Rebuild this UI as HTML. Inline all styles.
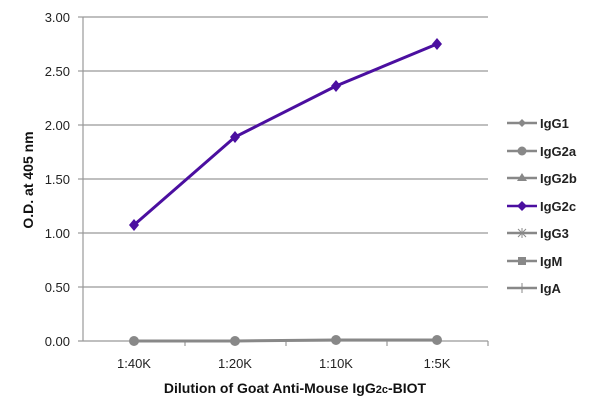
<!DOCTYPE html>
<html><head><style>body{margin:0;background:#fff}svg{display:block}text{font-family:"Liberation Sans",sans-serif}</style></head>
<body>
<svg width="600" height="410" viewBox="0 0 600 410">
<g stroke="#999" stroke-width="1.2">
<line x1="83" y1="17" x2="488" y2="17"/><line x1="83" y1="71" x2="488" y2="71"/><line x1="83" y1="125" x2="488" y2="125"/><line x1="83" y1="179" x2="488" y2="179"/><line x1="83" y1="233" x2="488" y2="233"/><line x1="83" y1="287" x2="488" y2="287"/>
<line x1="78" y1="341" x2="488" y2="341"/>
<line x1="83" y1="17" x2="83" y2="341"/>
<line x1="78" y1="17" x2="83" y2="17"/><line x1="78" y1="71" x2="83" y2="71"/><line x1="78" y1="125" x2="83" y2="125"/><line x1="78" y1="179" x2="83" y2="179"/><line x1="78" y1="233" x2="83" y2="233"/><line x1="78" y1="287" x2="83" y2="287"/>
<line x1="185" y1="341" x2="185" y2="346"/><line x1="286" y1="341" x2="286" y2="346"/><line x1="387" y1="341" x2="387" y2="346"/><line x1="488" y1="341" x2="488" y2="346"/>
</g>
<g font-size="13" fill="#222" text-anchor="end">
<text x="70" y="22">3.00</text><text x="70" y="76">2.50</text><text x="70" y="130">2.00</text><text x="70" y="184">1.50</text><text x="70" y="238">1.00</text><text x="70" y="292">0.50</text><text x="70" y="346">0.00</text>
</g>
<g font-size="13" fill="#222" text-anchor="middle">
<text x="134" y="368">1:40K</text><text x="235" y="368">1:20K</text><text x="336" y="368">1:10K</text><text x="437" y="368">1:5K</text>
</g>
<text x="295" y="393" font-size="14" font-weight="bold" text-anchor="middle" fill="#111">Dilution of Goat Anti-Mouse IgG<tspan font-size="11">2c</tspan>-BIOT</text>
<text transform="translate(33,180) rotate(-90)" font-size="14" font-weight="bold" text-anchor="middle" fill="#111">O.D. at 405 nm</text>
<polyline points="134,341 235,341 336,340 437,340" fill="none" stroke="#888" stroke-width="3"/>
<g fill="#888"><circle cx="134" cy="341" r="5"/><circle cx="235" cy="341" r="5"/><circle cx="336" cy="340" r="5"/><circle cx="437" cy="340" r="5"/></g>
<polyline points="134,225 235,137 336,86 437,44" fill="none" stroke="#4b0fa0" stroke-width="3"/>
<g fill="#4b0fa0"><path d="M134,219 l5,6 -5,6 -5,-6z"/><path d="M235,131 l5,6 -5,6 -5,-6z"/><path d="M336,80 l5,6 -5,6 -5,-6z"/><path d="M437,38 l5,6 -5,6 -5,-6z"/></g>
<g stroke="#888" stroke-width="2.5">
<line x1="507" y1="123" x2="537" y2="123"/><line x1="507" y1="151" x2="537" y2="151"/><line x1="507" y1="178" x2="537" y2="178"/><line x1="507" y1="233" x2="537" y2="233"/><line x1="507" y1="261" x2="537" y2="261"/><line x1="507" y1="288" x2="537" y2="288"/>
<line x1="507" y1="206" x2="537" y2="206" stroke="#4b0fa0"/>
</g>
<g fill="#888"><path d="M522,119 l4,4 -4,4 -4,-4z"/><circle cx="522" cy="151" r="4.5"/><path d="M522,173 l5,8 -10,0z"/><rect x="518" y="257" width="8" height="8"/></g>
<path d="M522,201 l5,5 -5,5 -5,-5z" fill="#4b0fa0"/>
<g stroke="#888" stroke-width="1"><line x1="518" y1="229" x2="526" y2="237"/><line x1="518" y1="237" x2="526" y2="229"/><line x1="522" y1="228" x2="522" y2="238"/><line x1="522" y1="283" x2="522" y2="293"/></g>
<g font-size="13" font-weight="bold" fill="#222">
<text x="540" y="128">IgG1</text><text x="540" y="156">IgG2a</text><text x="540" y="183">IgG2b</text><text x="540" y="211">IgG2c</text><text x="540" y="238">IgG3</text><text x="540" y="266">IgM</text><text x="540" y="293">IgA</text>
</g>
</svg>
</body></html>
